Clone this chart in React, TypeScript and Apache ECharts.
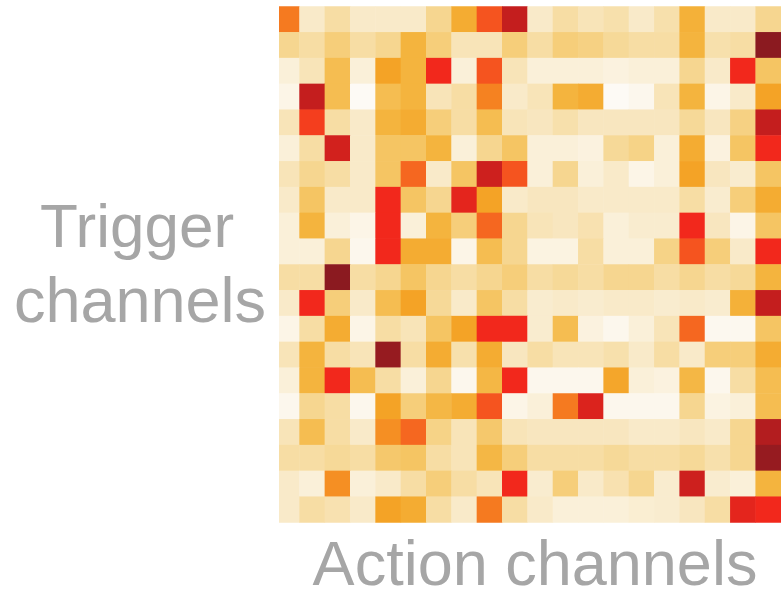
import React, { useEffect, useRef } from "react";
import * as echarts from "echarts";

// Column (action channel) and row (trigger channel) indices
const actionChannels = Array.from({ length: 20 }, (_, i) => `A${i + 1}`);
const triggerChannels = Array.from({ length: 20 }, (_, i) => `T${i + 1}`);

// Cell intensities, one array per trigger channel (row), left to right
const cellValues: number[][] = [
  [7, 1.5, 2.5, 1.5, 1.5, 1.5, 3, 5.5, 8, 10, 1.5, 2.5, 2, 2.3, 1.5, 2.3, 5.2, 1.5, 1.5, 3],
  [3, 2.5, 3.5, 2.5, 3, 5, 3.5, 2, 2, 3.5, 2.5, 3.5, 3.3, 2.8, 2.5, 2.5, 5, 2.3, 2.5, 11],
  [1, 2, 4.5, 1, 6, 5, 9, 1, 8, 2, 1, 1, 1, 0.8, 1, 1, 3, 1.5, 9, 4],
  [0.5, 10, 4.5, 0, 4.5, 5, 2, 2.5, 6.8, 1.5, 2, 5, 5.5, 0, 0.3, 2, 5, 0.5, 1.5, 6],
  [2, 8.5, 2.5, 1.5, 5, 5.5, 3.5, 2.5, 4.5, 2, 1.8, 2.3, 1.8, 1.8, 1.8, 1.8, 2.8, 1.8, 3.3, 10],
  [1, 2.5, 9.7, 1.5, 4, 4, 5, 1, 3, 4, 1, 1, 0.8, 2.8, 3.2, 1, 5.5, 0.8, 4, 9],
  [2, 3, 2.5, 1.5, 4, 7.5, 1.5, 4, 9.8, 8, 1, 3, 1, 1.5, 0.5, 1, 6, 1.8, 1.3, 4],
  [1.5, 4, 1.5, 1.5, 9, 4, 3, 9.3, 6, 1.5, 1.8, 1.8, 1.5, 1.5, 1.5, 1.5, 2.5, 1.3, 3.5, 5.5],
  [1, 5, 1, 0.5, 9, 1, 5, 3.5, 7.5, 3, 2, 1.8, 2.2, 1, 1.3, 1.3, 9, 1.8, 0.5, 4],
  [1, 1, 3, 0.3, 9, 5.5, 5.5, 0.5, 4.5, 3, 0.7, 0.7, 2.5, 1, 1, 3.2, 8, 3.5, 1.5, 9],
  [2.5, 2.5, 11, 2.5, 3, 4, 3, 2.5, 3, 3.5, 2.5, 2.8, 2.5, 3, 3, 2.5, 3, 2.5, 2.8, 5],
  [1.5, 9, 3.5, 1.5, 4.5, 6, 2.8, 1.5, 4, 2.5, 1.3, 1.5, 1.3, 1.5, 1.5, 1.3, 1.5, 1.3, 5.2, 10],
  [0.5, 2.5, 5.5, 0.5, 2.5, 2, 4, 6, 9, 9, 1.3, 4.5, 0.8, 0.3, 1, 2, 7.5, 0.2, 0.2, 4],
  [2, 5, 2.5, 2, 10.8, 2.5, 5.5, 2.3, 5.5, 1.8, 2.5, 2, 2, 2.3, 1.5, 2.5, 1.5, 3.5, 3.5, 5.5],
  [1, 5, 9, 4.5, 2.5, 1, 3, 0.3, 4.8, 9, 0.3, 0.3, 0.3, 5.8, 1, 0.8, 4.8, 0.3, 2.5, 4.5],
  [0.3, 3, 2.5, 0.3, 6, 3.5, 4.8, 5.5, 8, 0.5, 1, 7, 9.5, 0.3, 0.3, 0.3, 3, 0.7, 1, 4.5],
  [2, 4.5, 2.5, 1.5, 6.5, 7.5, 3.2, 2, 3.8, 2, 1.8, 1.8, 1.8, 1.8, 1.5, 1.5, 1.8, 1.5, 3, 10.3],
  [2.5, 2.5, 2.8, 2.5, 3.8, 4, 2.5, 2, 4.8, 3.5, 2.5, 2.5, 2.5, 2.8, 2.5, 2.5, 2.8, 2.3, 3, 10.8],
  [1.5, 1, 6.5, 1, 1.5, 2.5, 3.5, 2.5, 2, 9, 1.3, 3.5, 1.5, 2.2, 3, 1.3, 9.8, 1.3, 1, 5],
  [1.5, 2.5, 2.2, 1.5, 6, 5.5, 2.5, 1.5, 7, 2.5, 1.5, 1, 1, 1, 1.2, 1.3, 1.8, 2.5, 9.3, 9],
];

const colorStops = [
  "#fdfaf5", "#faf0d9", "#f8e4b8", "#f6d690", "#f5c563", "#f4b43e",
  "#f4a326", "#f57a20", "#f5541f", "#f2281c", "#c41e1e", "#8b1a20",
];

const yTitleLines = ["Trigger", "channels"];
const xTitle = "Action channels";

export default function App() {
  const ref = useRef<HTMLDivElement>(null);
  useEffect(() => {
    if (!ref.current) return;
    const chart = echarts.init(ref.current, undefined, { renderer: "svg" });
    const data: [number, number, number][] = [];
    cellValues.forEach((row, r) => row.forEach((v, c) => data.push([c, r, v])));
    const cell = 25.8;
    const font = "Liberation Sans, Arial, sans-serif";
    chart.setOption({
      animation: false,
      backgroundColor: "#ffffff",
      grid: { left: 274.2, top: 6.5, width: cell * 20, height: cell * 20 },
      xAxis: { type: "category", data: actionChannels, show: false },
      yAxis: { type: "category", data: triggerChannels, inverse: true, show: false },
      visualMap: {
        show: false,
        min: 0,
        max: 11,
        dimension: 2,
        inRange: { color: colorStops },
      },
      series: [
        {
          type: "heatmap",
          data,
          itemStyle: { borderWidth: 0 },
          emphasis: { disabled: true },
        },
      ],
      graphic: [
        { type: "rect", z: 100, shape: { x: 0, y: 0, width: 279, height: 590 }, style: { fill: "#ffffff" } },
        {
          type: "text", z: 101, x: 137, y: 225.5,
          style: { text: yTitleLines[0], fontSize: 62, lineHeight: 50, fontFamily: font, fill: "#a6a6a6", align: "center", verticalAlign: "middle" },
        },
        {
          type: "text", z: 101, x: 140, y: 300,
          style: { text: yTitleLines[1], fontSize: 63, lineHeight: 50, fontFamily: font, fill: "#a6a6a6", align: "center", verticalAlign: "middle" },
        },
        {
          type: "text", z: 101, x: 535, y: 563,
          style: { text: xTitle, fontSize: 63, lineHeight: 50, fontFamily: font, fill: "#a6a6a6", align: "center", verticalAlign: "middle" },
        },
      ],
    });
    return () => chart.dispose();
  }, []);
  return <div ref={ref} style={{ position: "fixed", left: 0, top: 0, width: 781, height: 590 }} />;
}
